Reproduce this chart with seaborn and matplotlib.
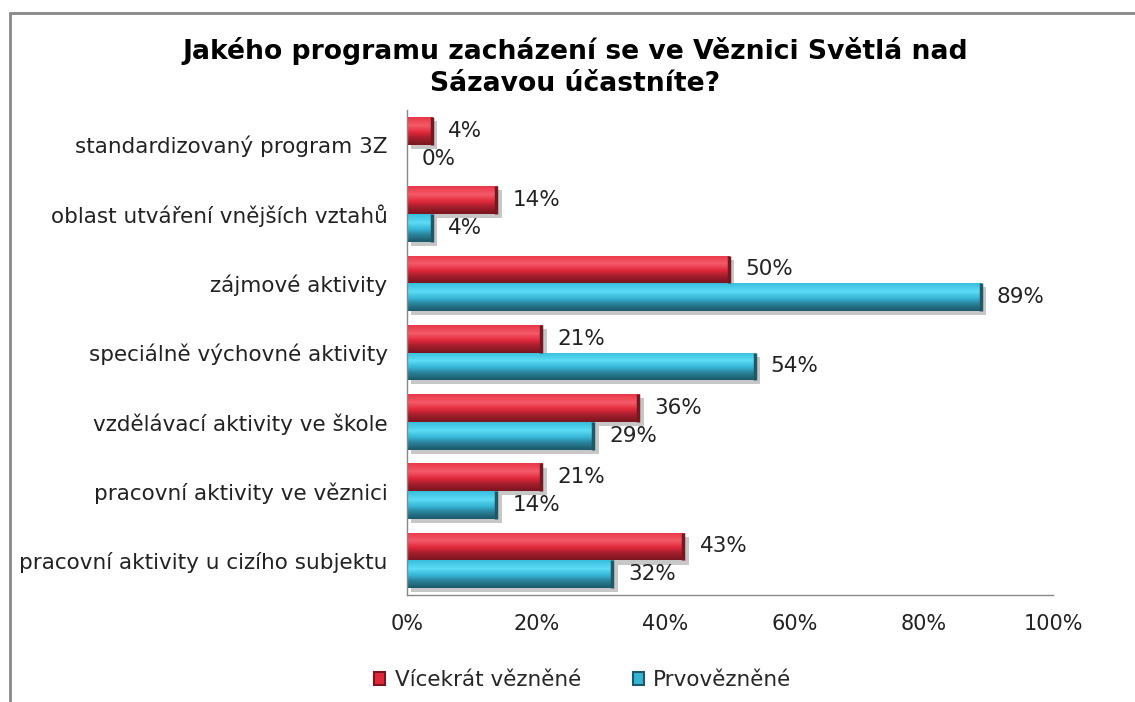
import numpy as np
import pandas as pd
import matplotlib
matplotlib.use("Agg")
import matplotlib.pyplot as plt
import matplotlib.patheffects as pe
from matplotlib.colors import LinearSegmentedColormap
from matplotlib.lines import Line2D
from matplotlib.patches import Patch
import seaborn as sns

categories = [
    "standardizovaný program 3Z",
    "oblast utváření vnějších vztahů",
    "zájmové aktivity",
    "speciálně výchovné aktivity",
    "vzdělávací aktivity ve škole",
    "pracovní aktivity ve věznici",
    "pracovní aktivity u cizího subjektu",
]
series_names = ["Vícekrát vězněné", "Prvovězněné"]
repeat_values = [4, 14, 50, 21, 36, 21, 43]
first_values = [0, 4, 89, 54, 29, 14, 32]
x_ticks = [0, 20, 40, 60, 80, 100]

title = "Jakého programu zacházení se ve Věznici Světlá nad\nSázavou účastníte?"

base_colors = {"Vícekrát vězněné": "#d7283a", "Prvovězněné": "#2fa8c8"}
# top -> bottom shading to fake the bevel look
shades = {
    "Vícekrát vězněné": ["#e83848", "#f45a68", "#e0283a", "#a41e2c", "#7a1620"],
    "Prvovězněné": ["#38bedd", "#5cdcf6", "#36b4d4", "#2a8098", "#1c5a6a"],
}

df = pd.DataFrame({
    "category": categories * 2,
    "value": repeat_values + first_values,
    "series": [series_names[0]] * len(categories) + [series_names[1]] * len(categories),
})

sns.set_style("white")
plt.rcParams["font.family"] = ["DejaVu Sans"]

fig = plt.figure(figsize=(11.35, 7.02), dpi=100)
ax = fig.add_axes([407 / 1135, 1 - 595 / 702, (1053 - 407) / 1135, (595 - 110) / 702])

sns.barplot(data=df, y="category", x="value", hue="series", order=categories,
            hue_order=series_names, palette=base_colors, orient="h",
            width=0.8, ax=ax, legend=False, linewidth=0)

ax.set_xlim(0, 100)
ax.set_ylim(len(categories) - 0.5, -0.5)

grad = np.interp(np.linspace(0, 1, 60), [0, 0.3, 0.55, 0.75, 1.0],
                 [0.0, 0.25, 0.5, 0.75, 1.0]).reshape(-1, 1)
for name, container in zip(series_names, ax.containers):
    cmap = LinearSegmentedColormap.from_list(name, shades[name])
    for p in container.patches:
        if p.get_width() <= 0:
            continue
        x0, y0, w, h = p.get_x(), p.get_y(), p.get_width(), p.get_height()
        p.set_path_effects([pe.SimplePatchShadow(offset=(3, -3), shadow_rgbFace="#000000", alpha=0.22),
                            pe.Normal()])
        im = ax.imshow(grad, cmap=cmap, aspect="auto", origin="upper",
                       extent=(x0, x0 + w, y0 + h, y0), zorder=p.get_zorder() + 0.1)
        im.set_clip_path(p)
        ax.plot([x0 + w - 0.2, x0 + w - 0.2], [y0, y0 + h], color=shades[name][4], lw=2.5,
                solid_capstyle="butt", zorder=p.get_zorder() + 0.2)

ax.set_xlim(0, 100)
ax.set_ylim(len(categories) - 0.5, -0.5)

# value labels
offset = 0.2
for i, (r, f) in enumerate(zip(repeat_values, first_values)):
    ax.text(r + 2.3, i - offset, f"{r}%", va="center", ha="left", fontsize=15.5, color="#222222")
    ax.text(f + 2.3, i + offset, f"{f}%", va="center", ha="left", fontsize=15.5, color="#222222")

ax.set_xticks(x_ticks)
ax.set_xticklabels([f"{t}%" for t in x_ticks], fontsize=15, color="#222222")
ax.set_yticks(range(len(categories)))
ax.set_yticklabels(categories, fontsize=15.5, color="#222222")
ax.set_yticks(np.arange(-0.5, len(categories)), minor=True)
ax.tick_params(axis="y", which="major", length=0, pad=14)
ax.tick_params(axis="y", which="minor", length=6, color="#888888", width=1)
ax.tick_params(axis="x", which="major", length=6, color="#888888", width=1, pad=8, direction="out")
ax.set_xlabel("")
ax.set_ylabel("")
for side in ["top", "right"]:
    ax.spines[side].set_visible(False)
for side in ["left", "bottom"]:
    ax.spines[side].set_color("#888888")
    ax.spines[side].set_linewidth(1)

fig.text(575 / 1135, 1 - 67 / 702, title, ha="center", va="center",
         fontsize=19.2, fontweight="bold", color="#000000", linespacing=1.3)

handles = [Patch(facecolor=shades[n][2], edgecolor=shades[n][4], linewidth=1.5) for n in series_names]
fig.legend(handles, series_names, loc="center", bbox_to_anchor=(583 / 1135, 1 - 680 / 702),
           ncol=2, frameon=False, fontsize=15.5, handlelength=0.5, handleheight=0.6,
           handletextpad=0.45, columnspacing=2.4)

# outer chart frame (left and top edges)
fig.add_artist(Line2D([10 / 1135, 10 / 1135], [0, 1 - 13 / 702], transform=fig.transFigure,
                      color="#888888", lw=2))
fig.add_artist(Line2D([10 / 1135, 1], [1 - 13 / 702, 1 - 13 / 702], transform=fig.transFigure,
                      color="#888888", lw=2))

fig.savefig("out.png", dpi=100)
